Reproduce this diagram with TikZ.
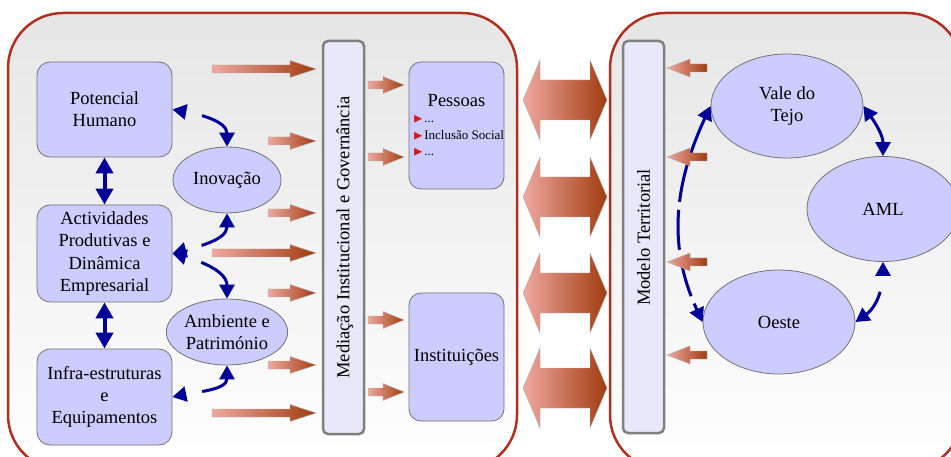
\documentclass[tikz,border=0pt]{standalone}
\usepackage{fontspec}
\setmainfont{Liberation Serif}
\usepackage{amssymb}
\usetikzlibrary{arrows.meta,shapes.geometric}
\definecolor{panelred}{HTML}{B03020}
\definecolor{boxfill}{HTML}{CCCCFF}
\definecolor{barfill}{HTML}{E8E8FA}
\definecolor{navyarrow}{HTML}{000099}
\definecolor{arrowlight}{HTML}{F0A8A0}
\definecolor{arrowdark}{HTML}{A03C10}
\definecolor{panelgray}{HTML}{E6E6E6}
\definecolor{bulletred}{HTML}{CC2020}
\newcommand\bigtxt{\fontsize{18.5}{22.3}\selectfont}
\newcommand\pbul{\textcolor{bulletred}{$\blacktriangleright$}\hspace{1pt}}
% right-pointing gradient arrow: start x, tip x, y, head length
\newcommand\garrowR[4]{%
  \shade[garrow] (#1,#3+4) -- (#2-#4,#3+4) -- (#2-#4,#3+8.5) -- (#2,#3)
    -- (#2-#4,#3-8.5) -- (#2-#4,#3-4) -- (#1,#3-4) -- cycle;}
% left-pointing gradient arrow: tip x, end x, y, head length
\newcommand\garrowL[4]{%
  \shade[garrow] (#1,#3) -- (#1+#4,#3+9) -- (#1+#4,#3+4) -- (#2,#3+4)
    -- (#2,#3-4) -- (#1+#4,#3-4) -- (#1+#4,#3-9) -- cycle;}
% big double gradient arrow at y
\newcommand\garrowD[1]{%
  \shade[garrow] (523,#1) -- (540,#1+40) -- (540,#1+20) -- (590,#1+20)
    -- (590,#1+40) -- (607,#1) -- (590,#1-40) -- (590,#1-20)
    -- (540,#1-20) -- (540,#1-40) -- cycle;}
\begin{document}
\begin{tikzpicture}[x=1pt,y=1pt,
  garrow/.style={left color=arrowlight, right color=arrowdark, draw=gray!60, line width=0.4pt},
  panel/.style={draw=panelred, line width=2.5pt, rounded corners=55pt, top color=panelgray, bottom color=white},
  box/.style={draw=gray!90!black, line width=0.8pt, fill=boxfill, rounded corners=13pt,
    minimum width=135pt, inner sep=0pt, align=center, font=\bigtxt},
  ell/.style={ellipse, draw=gray!90!black, line width=0.8pt, fill=boxfill, inner sep=0pt,
    align=center, font=\bigtxt},
  bar/.style={draw=gray, line width=2.5pt, fill=barfill, rounded corners=5pt,
    minimum width=41pt, inner sep=0pt},
  bartext/.style={rotate=90, font=\bigtxt, inner sep=0pt},
  bluearr/.style={draw=navyarrow, line width=3pt,
    {Triangle[length=14pt,width=15pt]}-{Triangle[length=14pt,width=15pt]}},
  bluevert/.style={draw=navyarrow, line width=4pt,
    {Triangle[length=16pt,width=17pt]}-{Triangle[length=16pt,width=17pt]}},
  gapstart/.style={dash pattern=on 0.01pt off 17pt on 300pt off 1pt},
  longdash/.style={dash pattern=on 40pt off 8pt}
]
\useasboundingbox (0,0) rectangle (951,-457);
\begin{scope}
\clip (0,0) rectangle (951,-457);
\fill[white] (0,0) rectangle (951,-457);
% panels
\path[panel] (8,-13) rectangle (517,-470);
\path[panel] (610,-13) rectangle (962,-470);

% left boxes
\node[box, minimum height=95pt] (ph) at (104.5,-109.5) {Potencial\\Humano};
\node[box, minimum height=97pt] (act) at (104.5,-253.5) {Actividades\\Produtivas e\\Dinâmica\\Empresarial};
\node[box, minimum height=96pt] (inf) at (104.5,-397) {Infra-estruturas\\e\\Equipamentos};
\node[ell, minimum width=108pt, minimum height=66pt] (inov) at (227,-180) {Inovação};
\node[ell, minimum width=108pt, minimum height=66pt] (amb) at (227,-332) {Ambiente e\\Património};

% mediation bar
\node[bar, minimum height=393pt] (med) at (343.5,-237.5) {};
\node[bartext] (medt) at (345,-237.5) {Mediação Institucional e Governância};

% Pessoas, Instituições
\node[box, minimum width=95pt, minimum height=127pt, rounded corners=12pt] (pes) at (456.5,-125.5) {};
\node[font=\bigtxt, inner sep=0pt] (pest) at (456.5,-101) {Pessoas};
\node[anchor=west, align=left, inner sep=0pt, font=\fontsize{13}{16.5}\selectfont] (pitems) at (413,-136)
  {\pbul...\\\pbul Inclusão Social\\\pbul...};
\node[box, minimum width=95pt, minimum height=128pt, rounded corners=12pt] (inst) at (456.5,-357) {Instituições};

% gradient arrows to mediation bar
\garrowR{212}{316}{-69}{26}
\garrowR{268}{316}{-141}{26}
\garrowR{268}{316}{-213}{26}
\garrowR{212}{316}{-253}{26}
\garrowR{268}{316}{-293}{26}
\garrowR{268}{316}{-365}{26}
\garrowR{212}{316}{-413}{26}
% from bar to Pessoas / Instituições
\garrowR{368}{404}{-85}{21}
\garrowR{368}{404}{-157}{21}
\garrowR{368}{404}{-320}{21}
\garrowR{368}{404}{-392}{21}

% blue arrows left
\draw[bluevert] (ph.south) -- (act.north);
\draw[bluevert] (act.south) -- (inf.north);
\draw[bluearr, gapstart] (ph.east) to[out=-10,in=90] (inov.north);
\draw[bluearr, gapstart] (act.east) to[out=15,in=-90] (inov.south);
\draw[bluearr, gapstart] (act.east) to[out=-15,in=90] (amb.north);
\draw[bluearr, gapstart] (inf.east) to[out=12,in=-90] (amb.south);

% double arrows between panels
\garrowD{-100}
\garrowD{-197}
\garrowD{-293}
\garrowD{-388}

% right panel
\node[bar, minimum height=392pt] (mod) at (643.5,-237) {};
\node[bartext] (modt) at (643.5,-237.5) {Modelo Territorial};
\node[ell, minimum width=152pt, minimum height=104pt] (vale) at (787,-106) {Vale do\\Tejo};
\node[ell, minimum width=152pt, minimum height=105pt] (aml) at (883,-209) {AML};
\node[ell, minimum width=152pt, minimum height=104pt] (oeste) at (779,-322) {Oeste};

\draw[bluearr] (vale.east) to[out=-55,in=90] (aml.north);
\draw[bluearr, gapstart] (aml.south) to[out=-90,in=35] (oeste.east);
\draw[bluearr, longdash] (vale.west) to[out=245,in=115] (oeste.west);

\garrowL{667}{707}{-68}{23}
\garrowL{667}{707}{-157}{23}
\garrowL{667}{707}{-262}{23}
\garrowL{667}{707}{-355}{23}
\end{scope}
\end{tikzpicture}
\end{document}
